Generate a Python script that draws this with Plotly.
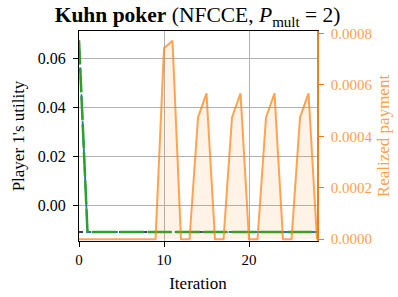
import plotly.graph_objects as go

iterations = list(range(0, 29))
utility_green = [0.0673] + [-0.0109] * 28
utility_blue = [0.0673] + [-0.0109] * 28
utility_opt = [-0.0109] * 29
payment = [0, 0, 0, 0, 0, 0, 0, 0, 0, 0,
           0.000742, 0.000771, 0, 0,
           0.000473, 0.000567, 0, 0,
           0.000473, 0.000567, 0, 0,
           0.000473, 0.000567, 0, 0,
           0.000473, 0.000567, 0]

x_ticks = [0, 10, 20]
y_ticks = [0.00, 0.02, 0.04, 0.06]
y2_ticks = [0.0, 0.0002, 0.0004, 0.0006, 0.0008]

FONT = "Liberation Serif"
ORANGE_AX = "#e8801f"
ORANGE_TXT = "#ffa04c"

fig = go.Figure()
fig.add_trace(go.Scatter(x=iterations, y=utility_opt, mode="lines",
                         line=dict(color="black", width=1.5, dash="4px,4px"), showlegend=False))
fig.add_trace(go.Scatter(x=iterations, y=utility_blue, mode="lines",
                         line=dict(color="#1f77b4", width=1.8, dash="6px,3px"), showlegend=False))
fig.add_trace(go.Scatter(x=iterations, y=utility_green, mode="lines",
                         line=dict(color="#2ca02c", width=2.5, dash="24px,4px"), showlegend=False))
fig.add_trace(go.Scatter(x=iterations, y=payment, mode="lines", yaxis="y2",
                         fill="tozeroy", fillcolor="rgba(255,127,14,0.1)",
                         line=dict(color="rgba(255,127,14,0.7)", width=2), showlegend=False))

fig.update_layout(
    width=398, height=297,
    margin=dict(l=79, r=81, t=31, b=56),
    paper_bgcolor="white", plot_bgcolor="white",
    font=dict(family=FONT, size=15, color="black"),
    title=dict(text="<b>Kuhn poker</b> (NFCCE, <i>P</i><sub>mult</sub> = 2)",
               x=0.4965, xanchor="center", y=0.95, yanchor="middle",
               font=dict(family=FONT, size=21.5, color="black")),
    xaxis=dict(range=[0, 28], tickvals=x_ticks, ticks="outside", ticklen=5,
               tickcolor="black", showline=True, linecolor="black", linewidth=1.2,
               mirror=True, showgrid=True, gridcolor="#b0b0b0", gridwidth=1,
               zeroline=False, tickfont=dict(size=15), automargin=False,
               title=dict(text="Iteration", font=dict(size=17), standoff=10)),
    yaxis=dict(range=[-0.01457, 0.07114], tickvals=y_ticks, tickformat=".2f",
               ticks="outside", ticklen=5, tickcolor="black", showline=True,
               linecolor="black", linewidth=1.2, showgrid=True, gridcolor="#b0b0b0",
               gridwidth=1, zeroline=False, tickfont=dict(size=16), automargin=False,
               ticklabelstandoff=4,
               title=dict(text="Player 1's utility", font=dict(size=17), standoff=8)),
    yaxis2=dict(range=[-0.000007, 0.000809], tickvals=y2_ticks, tickformat=".4f",
                overlaying="y", side="right", ticks="outside", ticklen=5,
                tickcolor=ORANGE_AX, showline=True, linecolor=ORANGE_AX, linewidth=1.5,
                showgrid=False, zeroline=False, automargin=False,
                ticklabelstandoff=4,
                tickfont=dict(size=15, color=ORANGE_TXT),
                title=dict(text="Realized payment", font=dict(size=17, color=ORANGE_TXT),
                           standoff=6)),
)

fig.write_html("out.html", config={"displayModeBar": False},
               post_script="document.body.style.margin='0';")
